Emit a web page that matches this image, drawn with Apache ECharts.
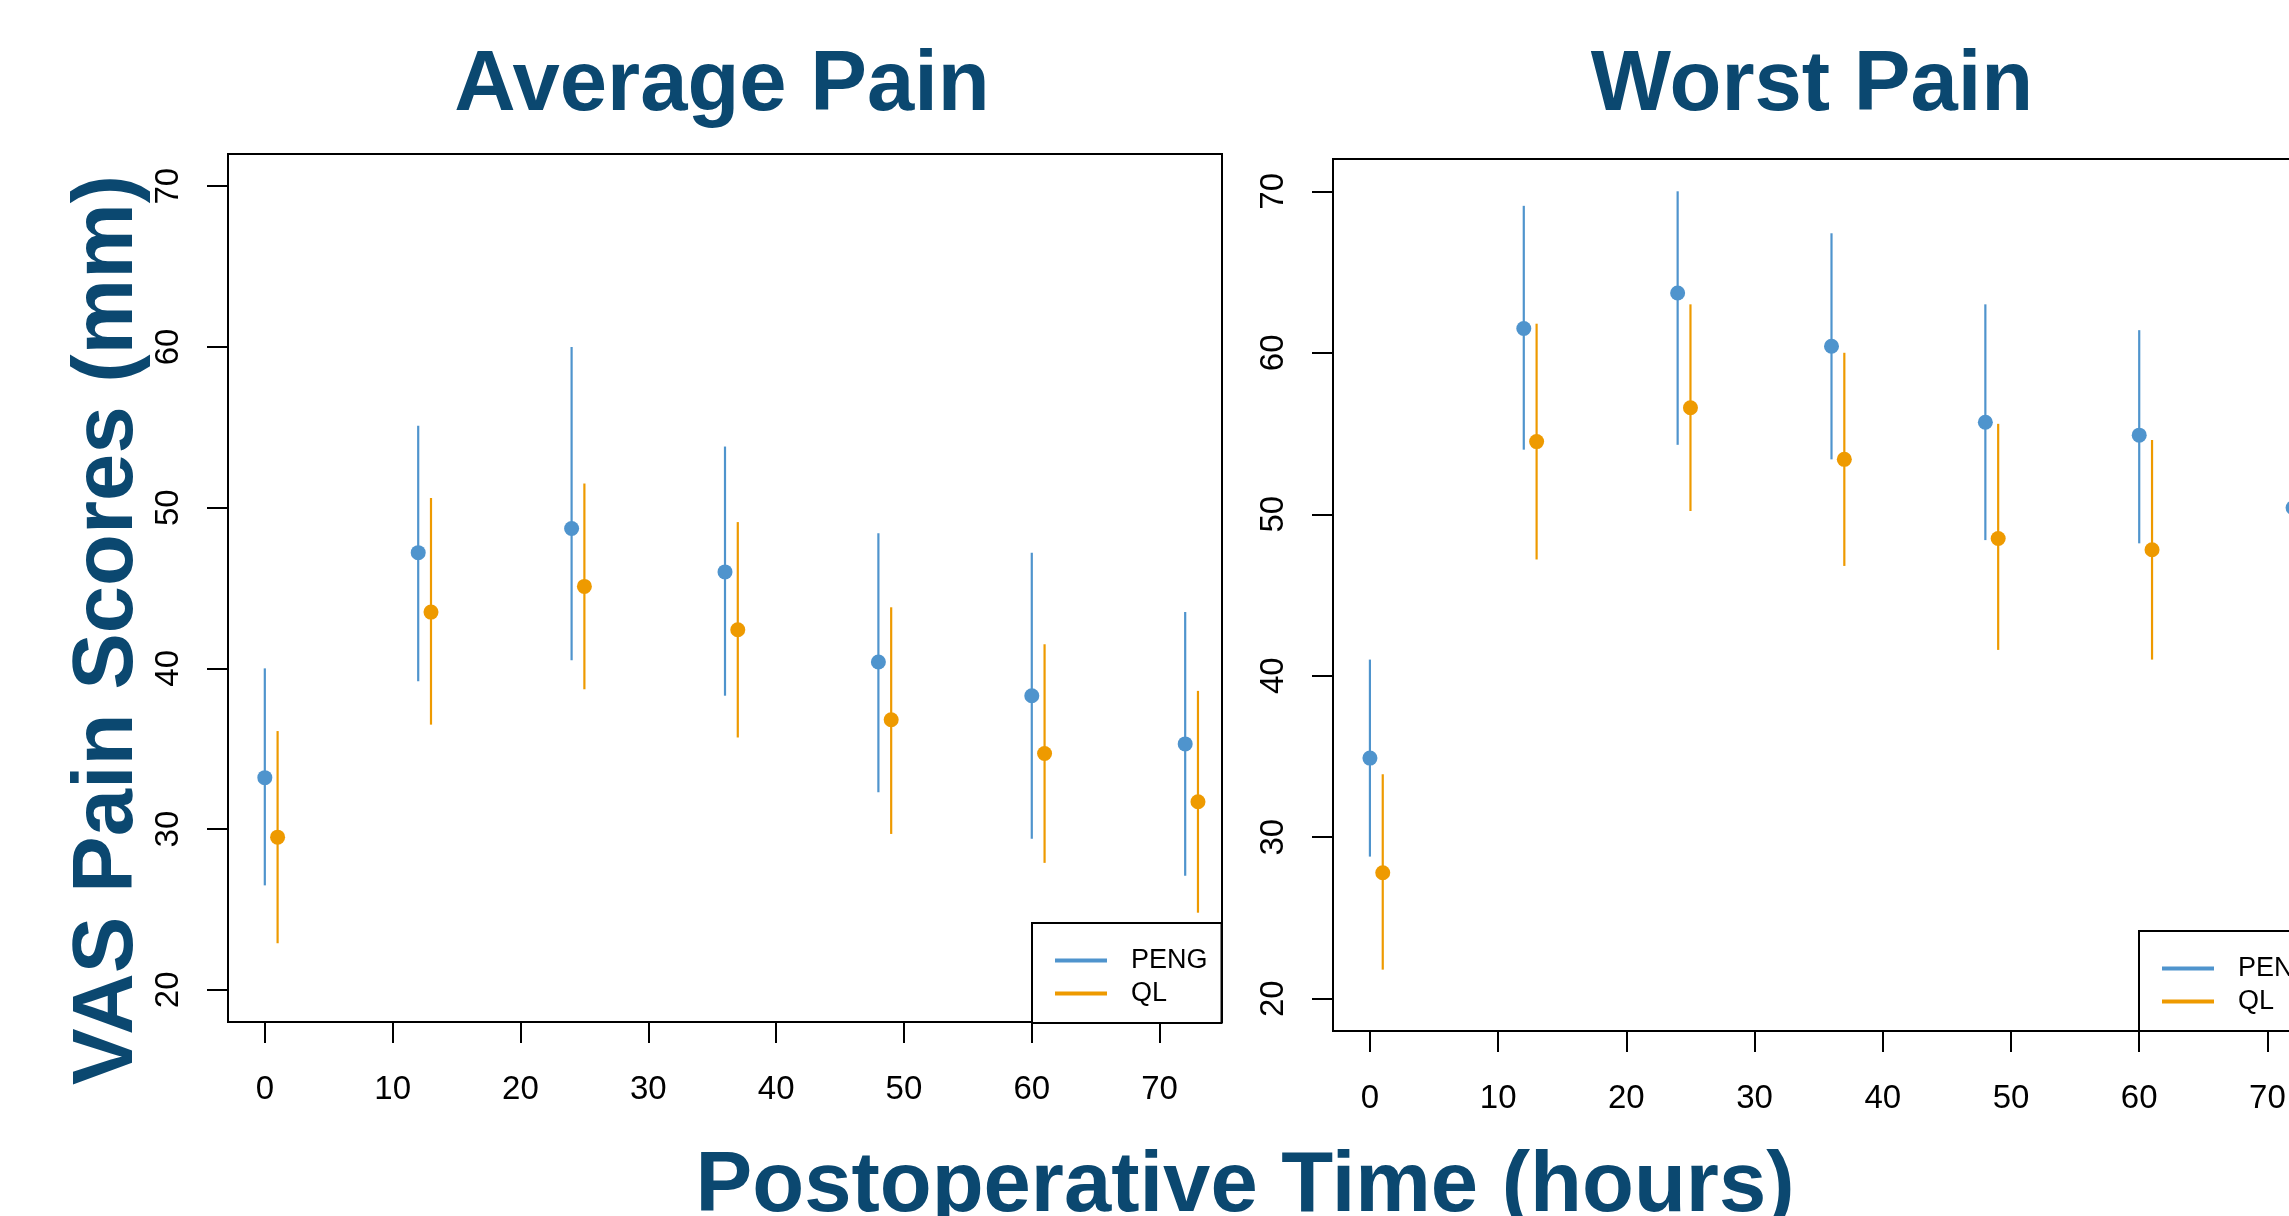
<!DOCTYPE html>
<html>
<head>
<meta charset="utf-8">
<script src="https://cdn.jsdelivr.net/npm/echarts@6/dist/echarts.min.js"></script>
<style>
html,body{margin:0;padding:0;background:#fff;}
#chart{width:2289px;height:1216px;}
</style>
</head>
<body>
<div id="chart"></div>
<script>
// ---- data ----
var timesPENG = [0, 12, 24, 36, 48, 60, 72];
var timesQL   = [1, 13, 25, 37, 49, 61, 73];
var xTicks = [0, 10, 20, 30, 40, 50, 60, 70];
var yTicks = [20, 30, 40, 50, 60, 70];

var avgPengMean = [33.2, 47.2, 48.7, 46.0, 40.4, 38.3, 35.3];
var avgPengLow  = [26.5, 39.2, 40.5, 38.3, 32.3, 29.4, 27.1];
var avgPengHigh = [40.0, 55.1, 60.0, 53.8, 48.4, 47.2, 43.5];
var avgQLMean   = [29.5, 43.5, 45.1, 42.4, 36.8, 34.7, 31.7];
var avgQLLow    = [22.9, 36.5, 38.7, 35.7, 29.7, 27.9, 24.8];
var avgQLHigh   = [36.1, 50.6, 51.5, 49.1, 43.8, 41.5, 38.6];

var worstPengMean = [34.9, 61.5, 63.7, 60.4, 55.7, 54.9, 50.4];
var worstPengLow  = [28.8, 54.0, 54.3, 53.4, 48.4, 48.2, 43.5];
var worstPengHigh = [41.0, 69.1, 70.0, 67.4, 63.0, 61.4, 57.3];
var worstQLMean   = [27.8, 54.5, 56.6, 53.4, 48.5, 47.8, 44.0];
var worstQLLow    = [21.8, 47.2, 50.2, 46.8, 41.6, 41.0, 37.5];
var worstQLHigh   = [33.9, 61.8, 63.0, 60.0, 55.6, 54.6, 50.5];

var panelTitles = ['Average Pain', 'Worst Pain'];
var yTitle = 'VAS Pain Scores (mm)';
var xTitle = 'Postoperative Time (hours)';
var seriesNames = ['PENG', 'QL'];

// ---- style ----
var BLUE = '#4F94CD', ORANGE = '#EE9A00', NAVY = '#0B4870';
var FONT = '"Liberation Sans", Arial, sans-serif';

function zip3(x, a, b) { return x.map(function (v, i) { return [v, a[i], b[i]]; }); }
function zip2(x, a) { return x.map(function (v, i) { return [v, a[i]]; }); }

function errSeries(name, idx, x, lo, hi, color) {
  return {
    name: name, type: 'custom', xAxisIndex: idx, yAxisIndex: idx,
    data: zip3(x, lo, hi), clip: false,
    renderItem: function (params, api) {
      var p1 = api.coord([api.value(0), api.value(1)]);
      var p2 = api.coord([api.value(0), api.value(2)]);
      return { type: 'line', shape: { x1: p1[0], y1: p1[1], x2: p2[0], y2: p2[1] },
               style: { stroke: color, lineWidth: 2.2 } };
    }
  };
}
function dotSeries(name, idx, x, m, color) {
  return {
    name: name, type: 'scatter', xAxisIndex: idx, yAxisIndex: idx,
    data: zip2(x, m), symbol: 'circle', symbolSize: 15, clip: false,
    itemStyle: { color: color, opacity: 1 }, z: 5
  };
}

var grids = [
  { left: 228, top: 154, width: 994, height: 868 },
  { left: 1333, top: 159, width: 997, height: 872 }
];

function xAxis(i) {
  return {
    type: 'value', gridIndex: i, min: -2.88, max: 74.88,
    splitLine: { show: false },
    axisLine: { show: false, onZero: false },
    axisTick: { show: true, inside: false, length: 21, customValues: xTicks,
                lineStyle: { color: '#000', width: 2 } },
    axisLabel: { customValues: xTicks, margin: 51, fontSize: 33, color: '#000', fontFamily: FONT }
  };
}
function yAxis(i) {
  return {
    type: 'value', gridIndex: i, min: 18, max: 72,
    splitLine: { show: false },
    axisLine: { show: false, onZero: false },
    axisTick: { show: true, inside: false, length: 21, customValues: yTicks,
                lineStyle: { color: '#000', width: 2 } },
    axisLabel: { customValues: yTicks, rotate: 90, margin: 43, fontSize: 33, color: '#000', fontFamily: FONT }
  };
}

function legend(left, top) {
  return {
    left: left, top: top, orient: 'vertical',
    backgroundColor: '#fff', borderColor: '#000', borderWidth: 2, borderRadius: 0,
    padding: [24, 14, 16, 23], itemGap: 6,
    itemWidth: 52, itemHeight: 4, selectedMode: false,
    textStyle: { fontSize: 27, fontFamily: FONT, color: '#000', lineHeight: 27, padding: [0, 0, 0, 19] },
    data: [
      { name: seriesNames[0], icon: 'rect', itemStyle: { color: BLUE } },
      { name: seriesNames[1], icon: 'rect', itemStyle: { color: ORANGE } }
    ]
  };
}

var bigText = { fontSize: 85, fontWeight: 'bold', fontFamily: FONT, fill: NAVY, align: 'center', verticalAlign: 'middle' };

var option = {
  animation: false,
  backgroundColor: '#fff',
  grid: grids.map(function (g) {
    return Object.assign({ show: true, borderColor: '#000', borderWidth: 2, backgroundColor: 'transparent',
                           containLabel: false, outerBoundsMode: 'none' }, g);
  }),
  xAxis: [xAxis(0), xAxis(1)],
  yAxis: [yAxis(0), yAxis(1)],
  legend: [legend(1032, 923), legend(2139, 931)],
  series: [
    errSeries(seriesNames[0], 0, timesPENG, avgPengLow, avgPengHigh, BLUE),
    dotSeries(seriesNames[0], 0, timesPENG, avgPengMean, BLUE),
    errSeries(seriesNames[1], 0, timesQL, avgQLLow, avgQLHigh, ORANGE),
    dotSeries(seriesNames[1], 0, timesQL, avgQLMean, ORANGE),
    errSeries(seriesNames[0], 1, timesPENG, worstPengLow, worstPengHigh, BLUE),
    dotSeries(seriesNames[0], 1, timesPENG, worstPengMean, BLUE),
    errSeries(seriesNames[1], 1, timesQL, worstQLLow, worstQLHigh, ORANGE),
    dotSeries(seriesNames[1], 1, timesQL, worstQLMean, ORANGE)
  ],
  graphic: [
    { type: 'text', x: 722, y: 87, style: Object.assign({ text: panelTitles[0] }, bigText) },
    { type: 'text', x: 1812, y: 87, style: Object.assign({ text: panelTitles[1] }, bigText) },
    { type: 'text', x: 109, y: 630, rotation: Math.PI / 2, style: Object.assign({ text: yTitle }, bigText) },
    { type: 'text', x: 1245, y: 1188, style: Object.assign({ text: xTitle }, bigText) }
  ]
};

var chart = echarts.init(document.getElementById('chart'), null, { renderer: 'canvas' });
chart.setOption(option);
</script>
</body>
</html>
